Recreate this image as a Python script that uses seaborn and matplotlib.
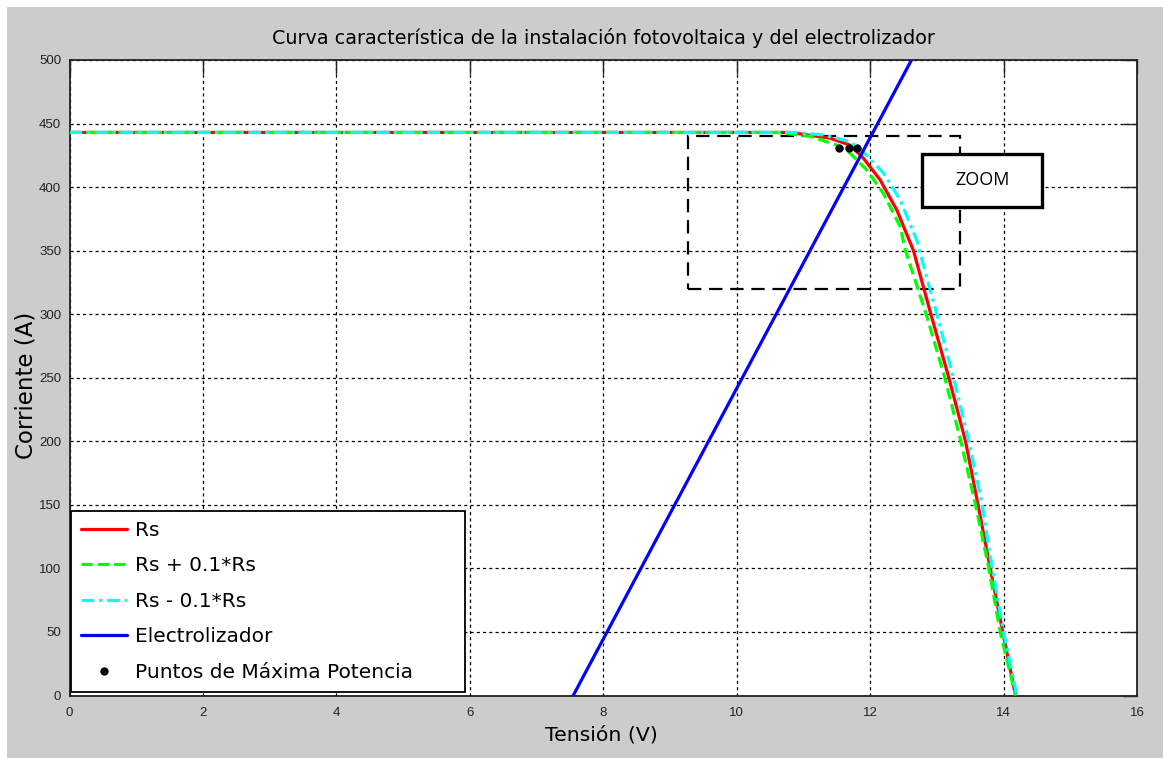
import numpy as np
import pandas as pd
import matplotlib
matplotlib.use("Agg")
import matplotlib.pyplot as plt
from matplotlib.patches import Rectangle
import seaborn as sns

# ---------------- data ----------------
v_rs = [0.0, 10.0, 10.8, 11.4, 11.7, 11.9, 12.15, 12.4, 12.65, 12.9, 13.18, 13.43, 13.61, 13.79, 13.98, 14.18]
i_rs = [443, 443, 443, 438.5, 433, 422.7, 405.7, 382, 350, 302, 250, 200, 152, 103, 52, 0]

v_rs_plus = [0.0, 10.0, 10.6, 11.1, 11.5, 11.7, 11.95, 12.2, 12.45, 12.53, 12.84, 13.12, 13.36, 13.58, 13.78, 13.95, 14.18]
i_rs_plus = [443, 443, 443, 440, 433, 426.7, 413.5, 395, 369, 350, 300, 250, 200, 150, 100, 50, 0]

v_rs_minus = [0.0, 10.0, 10.9, 11.3, 11.7, 11.95, 12.2, 12.45, 12.7, 12.74, 13.0, 13.25, 13.48, 13.68, 13.83, 14.0, 14.2]
i_rs_minus = [443, 443, 443, 441, 435.8, 425, 411, 390, 358, 350, 300, 250, 200, 150, 100, 50, 0]

v_elec = [7.55, 12.62]
i_elec = [0, 500]

v_mpp = [11.54, 11.68, 11.81]
i_mpp = [431, 431, 431]

title = "Curva característica de la instalación fotovoltaica y del electrolizador"
xlabel = "Tensión (V)"
ylabel = "Corriente (A)"
labels = ["Rs", "Rs + 0.1*Rs", "Rs - 0.1*Rs", "Electrolizador", "Puntos de Máxima Potencia"]
xticks = [0, 2, 4, 6, 8, 10, 12, 14, 16]
yticks = [0, 50, 100, 150, 200, 250, 300, 350, 400, 450, 500]

# ---------------- figure ----------------
sns.set_style("white")
plt.rcParams["font.family"] = ["DejaVu Sans"]

W, H = 1163, 758
fig = plt.figure(figsize=(W / 100, H / 100), dpi=100)
fig.patch.set_facecolor("#cccccc")
# thin white strips on top and left
fig.add_artist(Rectangle((0, 1 - 7 / H), 1, 7 / H, transform=fig.transFigure,
                         facecolor="white", edgecolor="none", zorder=-10))
fig.add_artist(Rectangle((0, 0), 7 / W, 1, transform=fig.transFigure,
                         facecolor="white", edgecolor="none", zorder=-10))

L, R, T, B = 69.5, 1137, 60, 695.5
ax = fig.add_axes([L / W, 1 - B / H, (R - L) / W, (B - T) / H])
ax.set_facecolor("white")

lw = 2.3
sns.lineplot(x=v_rs, y=i_rs, ax=ax, sort=False, estimator=None, color="#ff0000",
             lw=lw, label=labels[0], zorder=3)
sns.lineplot(x=v_rs_plus, y=i_rs_plus, ax=ax, sort=False, estimator=None, color="#00ff00",
             lw=lw, linestyle=(0, (3.5, 1.6)), label=labels[1], zorder=4)
sns.lineplot(x=v_rs_minus, y=i_rs_minus, ax=ax, sort=False, estimator=None, color="#00ffff",
             lw=lw, linestyle=(0, (4, 1.5, 1, 1.5)), label=labels[2], zorder=5)
sns.lineplot(x=v_elec, y=i_elec, ax=ax, sort=False, estimator=None, color="#0000ff",
             lw=lw, label=labels[3], zorder=6)
ax.plot(v_mpp, i_mpp, linestyle="none", marker="o", markersize=5, color="black",
        label=labels[4], zorder=7)

ax.set_xlim(0, 16)
ax.set_ylim(0, 500)
ax.set_xticks(xticks)
ax.set_yticks(yticks)
ax.set_xticklabels([str(t) for t in xticks], fontfamily="Liberation Sans", fontsize=9.5, color="#222222")
ax.set_yticklabels([str(t) for t in yticks], fontfamily="Liberation Sans", fontsize=9.5, color="#222222")
ax.tick_params(direction="in", length=10, width=1, top=True, right=True, pad=6, colors="#222222",
               labelcolor="#222222")
ax.tick_params(axis="x", pad=8)
ax.grid(True, linestyle=(0, (2.5, 2.5)), color="black", linewidth=0.9)
for s in ax.spines.values():
    s.set_visible(True)
    s.set_color("#222222")
    s.set_linewidth(1.3)
ax.set_xlabel("")
ax.set_ylabel("")

# zoom rectangle (dashed)
ax.add_patch(Rectangle((9.27, 320), 13.35 - 9.27, 440 - 320, fill=False, edgecolor="black",
                       linewidth=1.6, linestyle=(0, (6, 3.5)), zorder=2))
# ZOOM label box
ax.add_patch(Rectangle((12.78, 384.4), 14.58 - 12.78, 426.1 - 384.4, facecolor="white",
                       edgecolor="black", linewidth=2.4, zorder=8))
ax.text((12.78 + 14.58) / 2, (384.4 + 426.1) / 2, "ZOOM", ha="center", va="center",
        fontsize=13, fontfamily="Open Sans", color="black", zorder=9)

axw, axh = R - L, B - T
leg = ax.legend(loc="lower left",
                bbox_to_anchor=((71 - L) / axw, (B - 692) / axh, (465 - 71) / axw, 0.2),
                mode="expand", fontsize=14.5, frameon=True,
                fancybox=False, edgecolor="black", framealpha=1, handlelength=2.3,
                handletextpad=0.4, labelspacing=0.82, borderpad=0.5, borderaxespad=0.0,
                labelcolor="black")
leg.get_frame().set_linewidth(1.3)
leg.set_zorder(10)

fig.text(((L + R) / 2) / W, 1 - 38 / H, title, ha="center", va="center", fontsize=13.8, color="black")
fig.text(((L + R) / 2 - 2) / W, 1 - 735 / H, xlabel, ha="center", va="center", fontsize=14.7, color="black")
fig.text(26 / W, 1 - 385 / H, ylabel, ha="center", va="center", rotation=90, fontsize=16.5, color="black")

fig.savefig("out.png", dpi=100, facecolor=fig.get_facecolor())
